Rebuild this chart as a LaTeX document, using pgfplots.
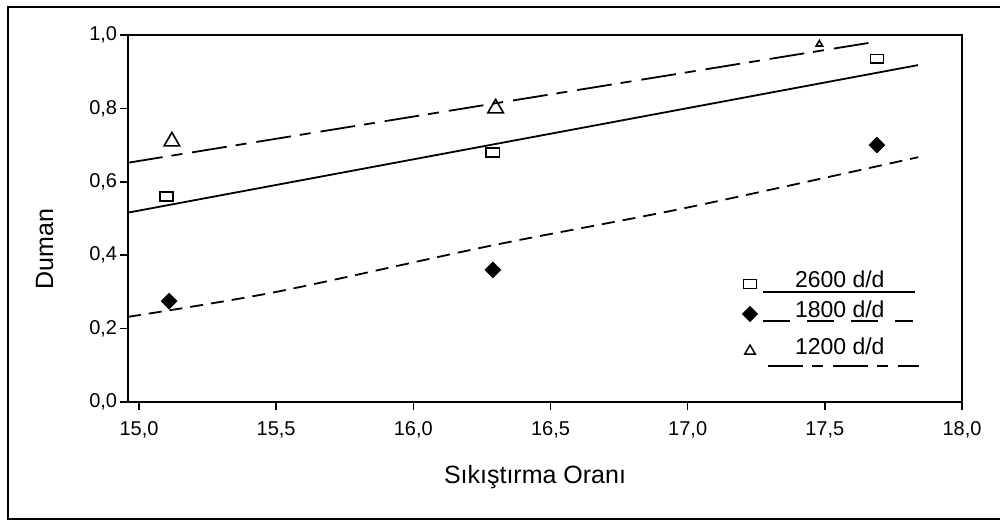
\documentclass[border=0pt]{standalone}
\usepackage{pgfplots}
\pgfplotsset{compat=1.18}
\usepackage{fontspec}
\setmainfont{Liberation Sans}
\begin{document}
\begin{tikzpicture}
\begin{axis}[
  at={(0,0)}, anchor=south west,
  scale only axis, width=417bp, height=183.5bp,
  xmin=14.96, xmax=18, ymin=0, ymax=1,
  axis line style={line width=1bp},
  xtick={15,15.5,16,16.5,17,17.5,18},
  ytick={0,0.2,0.4,0.6,0.8,1},
  tick style={line width=0.75bp, black},
  tick align=outside,
  tick pos=left,
  major tick length=3.75bp,
  minor tick num=0,
  /pgf/number format/fixed,
  /pgf/number format/fixed zerofill,
  /pgf/number format/precision=1,
  /pgf/number format/use comma,
  /pgf/number format/assume math mode=true,
  ticklabel style={font=\fontsize{10bp}{12bp}\selectfont},
  xticklabel style={inner sep=0pt, anchor=north, yshift=-5.75bp},
  yticklabel style={inner sep=0pt, anchor=east, xshift=-1.5bp},
  xlabel={Sıkıştırma Oranı},
  xlabel style={at={(axis description cs:0.488,-0.2207)}, anchor=base, font=\fontsize{12.5bp}{15bp}\selectfont},
  ylabel={Duman},
  ylabel style={at={(axis description cs:-0.0899,0.417)}, anchor=base, font=\fontsize{12.5bp}{15bp}\selectfont},
  legend style={at={(0.7458,0.3215)}, anchor=north west, xshift=-4bp, yshift=7.5bp,
    draw=none, fill=none, inner sep=0pt, outer sep=0pt, row sep=0pt, column sep=18.5bp,
    nodes={inner sep=0pt, text height=6bp, text depth=0pt, anchor=base west, yshift=-1.5bp,
      font=\fontsize{11.5bp}{14bp}\selectfont}},
  legend cell align=left,
]
% regression lines
\addplot[forget plot, black, line width=0.9bp] coordinates {(14.96,0.516) (17.84,0.918)};
\addplot[forget plot, black, line width=0.9bp, dash pattern=on 6.5bp off 4bp, smooth] coordinates {(14.96,0.232) (15.5,0.30) (16.29,0.427) (17.0,0.53) (17.84,0.667)};
\addplot[forget plot, black, line width=0.9bp, dash pattern=on 17.5bp off 4.5bp on 5.5bp off 5bp] coordinates {(14.96,0.652) (17.69,0.982)};
% data points
\addplot[forget plot, only marks, black, mark=square, mark size=2.2bp, mark options={xscale=1.5, line width=0.8bp}] coordinates {(15.10,0.56) (16.29,0.68) (17.69,0.935)};
\addplot[forget plot, only marks, black, mark=square*, mark size=2.7bp, mark options={rotate=45, line width=0.5bp}] coordinates {(15.11,0.275) (16.29,0.36) (17.69,0.70)};
\addplot[forget plot, only marks, black, mark=triangle, mark size=4.5bp, mark options={line width=0.8bp}] coordinates {(15.12,0.71) (16.30,0.80)};
\addplot[forget plot, only marks, black, mark=triangle, mark size=1.8bp, mark options={line width=0.8bp}] coordinates {(17.48,0.975)};
% legend
\addlegendimage{legend image code/.code={
  \path[draw=none, fill=none] (-4bp,-7.5bp) rectangle (4bp,7.5bp);
  \draw[overlay, black, line width=0.8bp] (6.5bp,-4bp) -- (82.5bp,-4bp);
  \draw[black, line width=0.8bp, mark size=2.2bp] plot[only marks, mark=square, mark options={xscale=1.5}] coordinates {(0,0)};
}}
\addlegendentry{2600 d/d}
\addlegendimage{legend image code/.code={
  \path[draw=none, fill=none] (-4bp,-7.5bp) rectangle (4bp,7.5bp);
  \draw[overlay, black, line width=0.8bp, dash pattern=on 13.5bp off 8.5bp] (6.5bp,-3.5bp) -- (81.5bp,-3.5bp);
  \draw[black, fill=black, line width=0.5bp, mark size=2.6bp] plot[only marks, mark=square*, mark options={rotate=45}] coordinates {(0,0)};
}}
\addlegendentry{1800 d/d}
\addlegendimage{legend image code/.code={
  \path[draw=none, fill=none] (-4bp,-7.5bp) rectangle (4bp,11bp);
  \draw[overlay, black, line width=0.8bp, dash pattern=on 17.5bp off 4.5bp on 5.5bp off 5bp] (9bp,-7.5bp) -- (84.5bp,-7.5bp);
  \draw[black, line width=0.75bp, mark size=3bp] plot[only marks, mark=triangle] coordinates {(0,0)};
}}
\addlegendentry{1200 d/d}
\end{axis}
\draw[line width=1.1bp] (440bp,197.5bp) -- (-60bp,197.5bp) -- (-60bp,-58.5bp) -- (440bp,-58.5bp);
\pgfresetboundingbox
\useasboundingbox (-64bp,-59.5bp) rectangle (436bp,201bp);
\end{tikzpicture}
\end{document}
